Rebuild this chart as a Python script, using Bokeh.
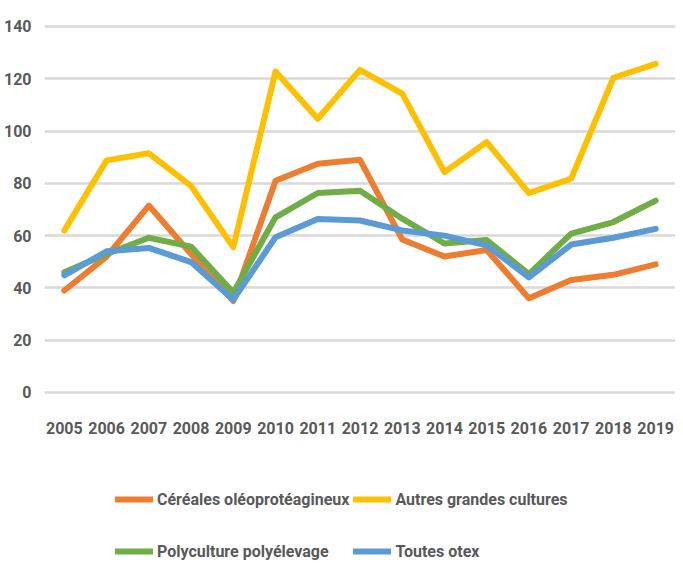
from bokeh.plotting import figure
from bokeh.models import FixedTicker, Legend, LegendItem, Range1d
from bokeh.embed import file_html
from bokeh.resources import INLINE

years = list(range(2005, 2020))
cereales = [39, 52, 71.5, 53, 35, 81, 87.5, 89, 58.5, 52, 54.5, 36, 43, 45, 49]
autres = [62, 88.8, 91.5, 79, 55.6, 122.8, 104.7, 123.4, 114.3, 84.3, 95.8, 76.3, 81.8, 120.4, 125.7]
polyculture = [46, 53, 59.2, 55.8, 38.2, 67, 76.3, 77.2, 66.5, 57, 58.3, 45.3, 60.8, 65.2, 73.4]
toutes = [44.8, 54, 55.3, 49.9, 35.5, 59.4, 66.4, 65.8, 62, 60, 56.3, 44, 56.6, 59.2, 62.6]
names = ["Céréales oléoprotéagineux", "Autres grandes cultures", "Polyculture polyélevage", "Toutes otex"]
colors = ["#ED7D31", "#FFC000", "#70AD47", "#5B9BD5"]
y_ticks = [0, 20, 40, 60, 80, 100, 120, 140]

FONT = "Roboto"
TXT = "#595959"

p = figure(width=675, height=563, output_backend="svg", toolbar_location=None,
           x_range=Range1d(2004.53, 2019.47), y_range=Range1d(-65.42, 143.06),
           min_border_left=42, min_border_right=0, min_border_top=18, min_border_bottom=0)
p.outline_line_color = None
p.background_fill_color = "white"

renderers = []
for vals, c in zip([cereales, autres, polyculture, toutes], colors):
    r = p.line(years, vals, line_color=c, line_width=6, line_cap="round", line_join="round")
    renderers.append(r)

p.xgrid.grid_line_color = None
p.ygrid.grid_line_color = "#D9D9D9"
p.ygrid.grid_line_width = 2.5
p.ygrid.ticker = FixedTicker(ticks=y_ticks)

p.yaxis.ticker = FixedTicker(ticks=y_ticks)
p.xaxis.ticker = FixedTicker(ticks=years)
p.xaxis.fixed_location = 0
for ax in [p.xaxis[0], p.yaxis[0]]:
    ax.axis_line_color = None
    ax.major_tick_line_color = None
    ax.minor_tick_line_color = None
    ax.major_tick_out = 0
    ax.major_tick_in = 0
    ax.major_label_text_font = FONT
    ax.major_label_text_font_style = "bold"
    ax.major_label_text_font_size = "16px"
    ax.major_label_text_color = TXT
p.yaxis.major_label_standoff = 13
p.xaxis.major_label_standoff = 30

items = [LegendItem(label=n, renderers=[r]) for n, r in zip(names, renderers)]
legend = Legend(items=items, orientation="horizontal", ncols=2,
                location=(71, -12), padding=0, margin=0, spacing=4,
                glyph_width=38, glyph_height=48, label_height=48, label_standoff=4,
                label_text_font=FONT, label_text_font_style="bold", label_text_font_size="16px",
                label_text_color=TXT, border_line_color=None, background_fill_alpha=0)
p.add_layout(legend, "center")

open("out.html", "w").write(file_html(p, INLINE))
